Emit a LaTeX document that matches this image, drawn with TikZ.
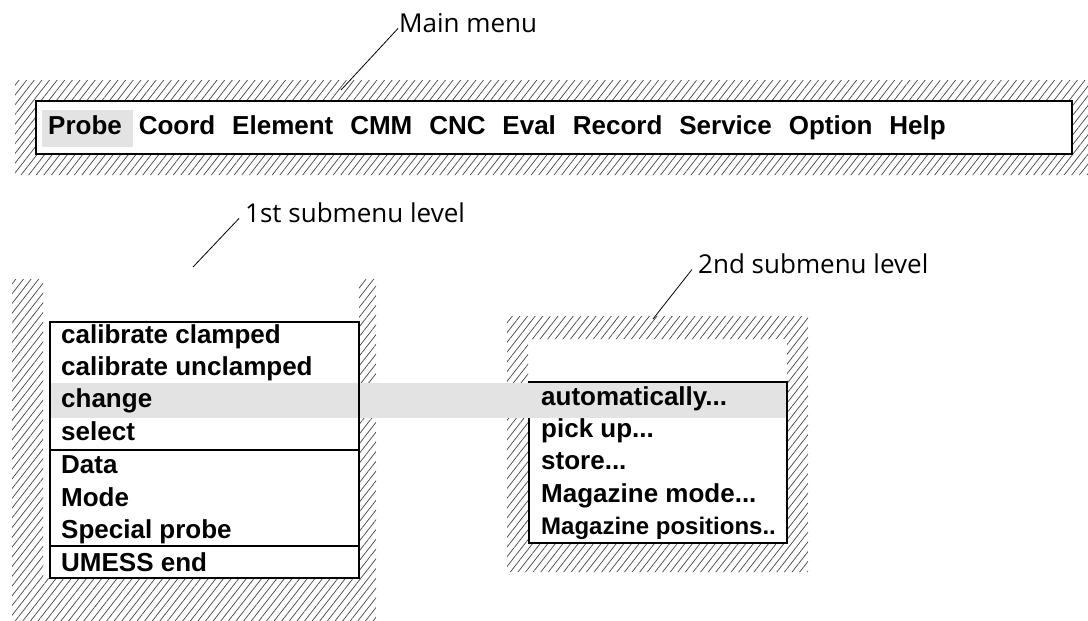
\documentclass[tikz,border=0pt]{standalone}
\usepackage{fontspec}
\setmainfont{Liberation Sans}
\newfontfamily\labelfont{Open Sans}
\usetikzlibrary{positioning,patterns.meta}
\tikzset
{
	menuitem/.style = {font=\fontsize{26}{30}\selectfont\bfseries, inner sep=0pt, text height=19pt, text depth=6pt},
	rowitem/.style  = {font=\fontsize{26}{30}\selectfont\bfseries, inner xsep=0pt, inner ysep=3.5pt, text height=19pt, text depth=6pt},
	caption/.style  = {font=\labelfont\fontsize{26}{30}\selectfont, inner sep=0pt, anchor=base west},
	hatched/.style  = {pattern={Lines[angle=52, distance=6pt, line width=0.75pt]}, pattern color=black!70, even odd rule},
	menubox/.style  = {draw=black, line width=2pt},
	picked/.style   = {fill=black!11},
	leader/.style   = {draw=black, line width=0.8pt}
}

\begin{document}
\begin{tikzpicture}[x=1pt, y=-1pt]
\useasboundingbox (0,0) rectangle (1088,621);

% hatched frames round the three menus
\fill[hatched] (15,80) rectangle (1088,175) (36,101) rectangle (1072,154);
\fill[hatched] (12,279) -- (43,279) -- (43,578) -- (359,578) -- (359,279)
	-- (376,279) -- (376,621) -- (12,621) -- cycle;
\fill[hatched] (507,316) rectangle (808,572) (528,339) rectangle (787,543);

% main menu bar
\draw[menubox] (36,101) rectangle (1072,154);
\fill[picked] (42,110) rectangle (133,147);
\node[menuitem, anchor=base west] (probe) at (48,134) {Probe};
\node[menuitem, right=16.5pt of probe] (coord) {Coord};
\node[menuitem, right=16.5pt of coord] (element) {Element};
\node[menuitem, right=16.5pt of element] (cmm) {CMM};
\node[menuitem, right=16.5pt of cmm] (cnc) {CNC};
\node[menuitem, right=16.5pt of cnc] (eval) {Eval};
\node[menuitem, right=16.5pt of eval] (record) {Record};
\node[menuitem, right=16.5pt of record] (service) {Service};
\node[menuitem, right=16.5pt of service] (option) {Option};
\node[menuitem, right=16.5pt of option] (help) {Help};

% second level
\draw[line width=1.5pt] (529,382) rectangle (787,543);

% selected row runs across both submenus
\fill[picked] (50,383) rectangle (786,418);

% first level
\draw[menubox] (50,322) rectangle (359,578);
\draw[menubox] (50,450) -- (359,450);
\draw[menubox] (50,546) -- (359,546);

\node[rowitem, anchor=base west] (calclamp) at (61,343) {calibrate clamped};
\node[rowitem, below=0pt of calclamp.south west, anchor=north west] (calunclamp) {calibrate unclamped};
\node[rowitem, below=0pt of calunclamp.south west, anchor=north west] (change) {change};
\node[rowitem, below=0pt of change.south west, anchor=north west] (select) {select};
\node[rowitem, below=1pt of select.south west, anchor=north west] (data) {Data};
\node[rowitem, below=0pt of data.south west, anchor=north west] (mode) {Mode};
\node[rowitem, below=0pt of mode.south west, anchor=north west] (special) {Special probe};
\node[rowitem, below=1pt of special.south west, anchor=north west] (umess) {UMESS end};

\node[rowitem, anchor=base west] (auto) at (541,405) {automatically...};
\node[rowitem, below=0pt of auto.south west, anchor=north west] (pickup) {pick up...};
\node[rowitem, below=0pt of pickup.south west, anchor=north west] (store) {store...};
\node[rowitem, below=0pt of store.south west, anchor=north west] (magmode) {Magazine mode...};
\node[rowitem, below=0pt of magmode.south west, anchor=north west, font=\fontsize{24}{28}\selectfont\bfseries] (magpos) {Magazine positions..};

% captions and their leaders
\node[caption] (mainlbl) at (399,32) {Main menu};
\node[caption] (firstlbl) at (245,222) {1st submenu level};
\node[caption] (secondlbl) at (698,273) {2nd submenu level};
\coordinate (mainhook) at (341,90);
\coordinate (firsthook) at (193,267);
\coordinate (secondhook) at (653,319);
\draw[leader] (mainhook) -- ([shift={(-1pt,4pt)}]mainlbl.south west);
\draw[leader] (firsthook) -- ([shift={(-6pt,4pt)}]firstlbl.south west);
\draw[leader] (secondhook) -- ([shift={(-6pt,4pt)}]secondlbl.south west);
\end{tikzpicture}
\end{document}
